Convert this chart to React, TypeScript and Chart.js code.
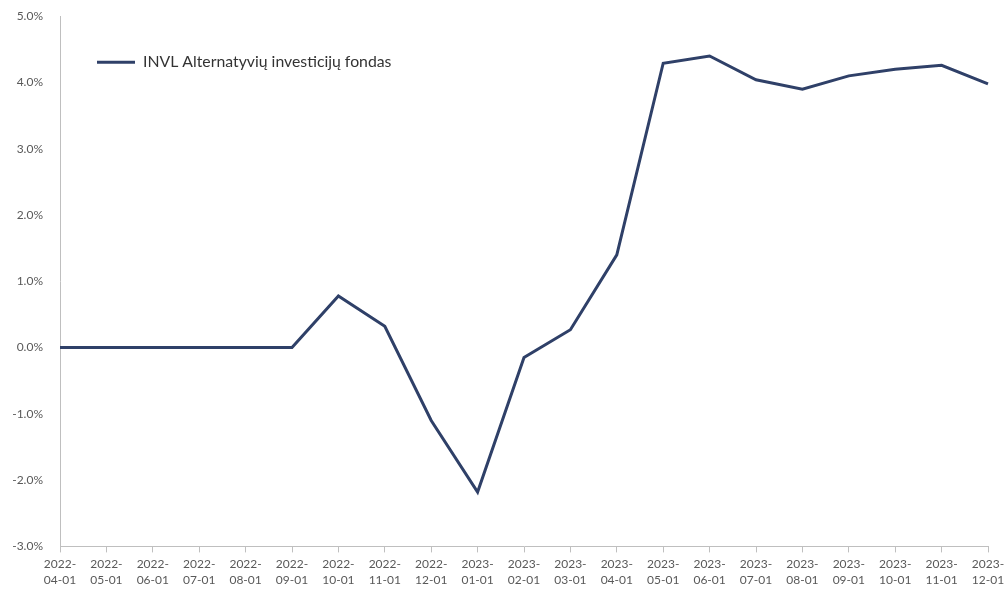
import React, { useEffect, useRef } from "react";
import { Chart, registerables } from "chart.js";

Chart.register(...registerables);

const categories: string[][] = [
  ["2022-", "04-01"], ["2022-", "05-01"], ["2022-", "06-01"], ["2022-", "07-01"],
  ["2022-", "08-01"], ["2022-", "09-01"], ["2022-", "10-01"], ["2022-", "11-01"],
  ["2022-", "12-01"], ["2023-", "01-01"], ["2023-", "02-01"], ["2023-", "03-01"],
  ["2023-", "04-01"], ["2023-", "05-01"], ["2023-", "06-01"], ["2023-", "07-01"],
  ["2023-", "08-01"], ["2023-", "09-01"], ["2023-", "10-01"], ["2023-", "11-01"],
  ["2023-", "12-01"],
];

const seriesName = "INVL Alternatyvių investicijų fondas";
const seriesValues: number[] = [
  0, 0, 0, 0, 0, 0, 0.78, 0.32, -1.1, -2.18, -0.15, 0.27, 1.4, 4.29, 4.4, 4.04,
  3.9, 4.1, 4.2, 4.26, 3.98,
];

const yMin = -3;
const yMax = 5;
const yStep = 1;

const LINE_COLOR = "#2F4068";
const TEXT_COLOR = "#595959";
const AXIS_COLOR = "#BFBFBF";
const FONT = "Lato, 'Open Sans', sans-serif";

const insideLegend = {
  id: "insideLegend",
  afterDraw(chart: any) {
    const { ctx, chartArea } = chart;
    const ds = chart.data.datasets[0];
    const x0 = chartArea.left + 37;
    const y0 = chartArea.top + 46;
    ctx.save();
    ctx.strokeStyle = ds.borderColor;
    ctx.lineWidth = 3;
    ctx.beginPath();
    ctx.moveTo(x0, y0);
    ctx.lineTo(x0 + 38, y0);
    ctx.stroke();
    ctx.fillStyle = "#333333";
    ctx.font = `15.8px ${FONT}`;
    ctx.textBaseline = "middle";
    ctx.textAlign = "left";
    ctx.fillText(ds.label, x0 + 46, y0);
    ctx.restore();
  },
};

export default function App() {
  const ref = useRef<HTMLCanvasElement | null>(null);

  useEffect(() => {
    document.body.style.margin = "0";
    document.body.style.overflow = "hidden";
    const canvas = ref.current;
    if (!canvas) return;
    const chart = new Chart(canvas, {
      type: "line",
      data: {
        labels: categories,
        datasets: [
          {
            label: seriesName,
            data: seriesValues,
            borderColor: LINE_COLOR,
            backgroundColor: LINE_COLOR,
            borderWidth: 3,
            pointRadius: 0,
            tension: 0,
            fill: false,
          },
        ],
      },
      options: {
        animation: false,
        responsive: true,
        maintainAspectRatio: false,
        layout: { padding: { top: 6, left: 0, right: 0, bottom: 2 } },
        plugins: {
          legend: { display: false },
          tooltip: { enabled: false },
        },
        scales: {
          x: {
            offset: false,
            afterFit: (scale: any) => {
              scale.paddingRight = 16;
            },
            grid: {
              display: true,
              drawOnChartArea: false,
              drawTicks: true,
              tickLength: 6,
              color: AXIS_COLOR,
            },
            border: { display: true, color: AXIS_COLOR, width: 1 },
            ticks: {
              autoSkip: false,
              maxRotation: 0,
              minRotation: 0,
              color: TEXT_COLOR,
              font: { family: FONT, size: 12, lineHeight: 1.4 },
              padding: 3,
            },
          },
          y: {
            min: yMin,
            max: yMax,
            grid: { display: false },
            border: { display: true, color: AXIS_COLOR, width: 1 },
            afterFit: (scale: any) => {
              scale.width = 60;
            },
            ticks: {
              stepSize: yStep,
              color: TEXT_COLOR,
              font: { family: FONT, size: 12 },
              padding: 9,
              callback: (v: any) => `${Number(v).toFixed(1)}%`,
            },
          },
        },
      },
      plugins: [insideLegend],
    });
    return () => chart.destroy();
  }, []);

  return (
    <div style={{ width: 1004, height: 594, position: "relative" }}>
      <canvas ref={ref} />
    </div>
  );
}
